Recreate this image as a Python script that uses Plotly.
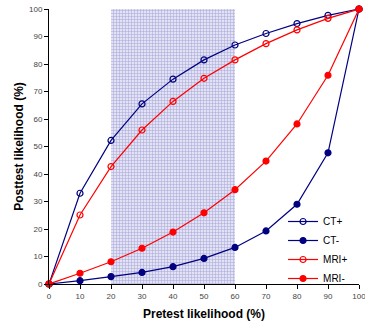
import plotly.graph_objects as go

pretest = [0, 10, 20, 30, 40, 50, 60, 70, 80, 90, 100]
ct_pos = [0, 33.0, 52.2, 65.5, 74.5, 81.5, 86.9, 91.1, 94.7, 97.7, 100]
ct_neg = [0, 1.2, 2.7, 4.2, 6.3, 9.3, 13.3, 19.3, 29.0, 47.7, 100]
mri_pos = [0, 25.1, 42.7, 56.0, 66.4, 74.8, 81.5, 87.4, 92.4, 96.6, 100]
mri_neg = [0, 3.9, 8.1, 13.0, 18.9, 25.9, 34.3, 44.7, 58.2, 75.9, 100]
shade_range = [20, 60]
shade_top = 101
ticks = [0, 10, 20, 30, 40, 50, 60, 70, 80, 90, 100]

navy = "#000080"
red = "#ff0000"

fig = go.Figure()
fig.add_trace(go.Bar(
    x=[(shade_range[0] + shade_range[1]) / 2], y=[shade_top],
    width=[shade_range[1] - shade_range[0]],
    marker=dict(color="#d8d8f0", line=dict(width=0),
                pattern=dict(shape="+", fgcolor="#6666bb", bgcolor="#e2e2f4", size=3, solidity=0.3)),
    showlegend=False, hoverinfo="skip", cliponaxis=False))

def add(name, y, color, filled):
    fig.add_trace(go.Scatter(
        x=pretest, y=y, name=name, mode="lines+markers",
        line=dict(color=color, width=1.2),
        marker=dict(symbol="circle" if filled else "circle-open", size=6,
                    color=color, line=dict(color=color, width=1.2)),
        cliponaxis=False))

add("CT+", ct_pos, navy, False)
add("CT-", ct_neg, navy, True)
add("MRI+", mri_pos, red, False)
add("MRI-", mri_neg, red, True)

fig.update_layout(
    width=365, height=323,
    margin=dict(l=49, r=6, t=9, b=39, autoexpand=False),
    paper_bgcolor="white", plot_bgcolor="white",
    font=dict(family="Liberation Sans, Arial, sans-serif", color="#000"),
    showlegend=True, bargap=0,
    legend=dict(x=0.755, y=0.28, xanchor="left", yanchor="top",
                font=dict(size=10, color="#000"), bgcolor="rgba(0,0,0,0)",
                tracegroupgap=0, itemwidth=30),
)
fig.update_xaxes(range=[0, 100], tickvals=ticks, ticks="outside", ticklen=4,
                 tickcolor="#000", showline=True, linecolor="#000", linewidth=1,
                 showgrid=False, zeroline=False, ticklabeloverflow="allow", automargin=False,
                 tickfont=dict(size=8, color="#444"),
                 title=dict(text="<b>Pretest likelihood (%)</b>", font=dict(size=12), standoff=10))
fig.update_yaxes(range=[0, 100], tickvals=ticks, ticks="outside", ticklen=4,
                 tickcolor="#000", showline=True, linecolor="#000", linewidth=1,
                 showgrid=False, zeroline=False, ticklabeloverflow="allow", automargin=False,
                 tickfont=dict(size=8, color="#444"),
                 title=dict(text="<b>Posttest likelihood (%)</b>", font=dict(size=12), standoff=2))

fig.write_html("out.html")
